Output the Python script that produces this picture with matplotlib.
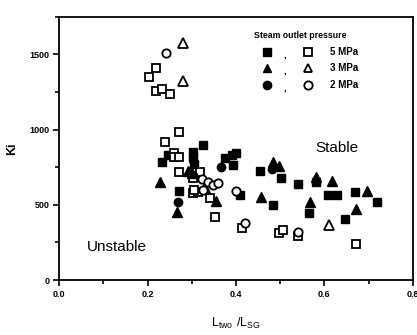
import matplotlib
matplotlib.use('Agg')
import matplotlib.pyplot as plt
from matplotlib.ticker import MultipleLocator

plt.rcParams['font.family'] = ['Liberation Sans', 'DejaVu Sans']

# 5 MPa
sq_f_x = [0.232, 0.245, 0.302, 0.302, 0.306, 0.325, 0.272, 0.375, 0.390, 0.401, 0.394,
          0.409, 0.455, 0.483, 0.502, 0.541, 0.564, 0.580, 0.609, 0.628, 0.647, 0.669, 0.718]
sq_f_y = [787, 831, 853, 809, 771, 897, 592, 812, 831, 842, 766,
          562, 722, 502, 678, 640, 443, 654, 567, 567, 405, 585, 518]
sq_o_x = [0.202, 0.219, 0.219, 0.232, 0.251, 0.271, 0.240, 0.260, 0.260, 0.271, 0.271,
          0.318, 0.303, 0.303, 0.315, 0.341, 0.352, 0.413, 0.498, 0.507, 0.541, 0.672, 0.305]
sq_o_y = [1352, 1407, 1259, 1270, 1234, 986, 918, 842, 815, 820, 720,
          720, 676, 576, 587, 543, 421, 343, 315, 330, 295, 240, 600]

# 3 MPa
tri_f_x = [0.229, 0.266, 0.292, 0.300, 0.354, 0.457, 0.484, 0.497, 0.568, 0.580, 0.617, 0.672, 0.697]
tri_f_y = [650, 450, 728, 710, 527, 552, 785, 760, 516, 685, 656, 475, 590]
tri_o_x = [0.281, 0.281, 0.611, 0.330]
tri_o_y = [1578, 1323, 366, 615]

# 2 MPa
circ_f_x = [0.269, 0.366, 0.482]
circ_f_y = [521, 752, 738]
circ_o_x = [0.242, 0.322, 0.337, 0.349, 0.360, 0.401, 0.421, 0.541, 0.326]
circ_o_y = [1511, 672, 654, 632, 645, 590, 380, 322, 600]

legend_labels = ['5 MPa', '3 MPa', '2 MPa']
legend_markers = ['s', '^', 'o']

fig = plt.figure(figsize=(4.17, 3.35), dpi=100)
ax = fig.add_axes([0.142, 0.164, 0.848, 0.786])

ms = 6
mew = 1.3
ax.plot(sq_f_x, sq_f_y, 's', color='black', ms=ms, ls='none')
ax.plot(sq_o_x, sq_o_y, 's', mfc='white', mec='black', mew=mew, ms=ms, ls='none')
ax.plot(tri_f_x, tri_f_y, '^', color='black', ms=ms + 0.5, ls='none')
ax.plot(tri_o_x, tri_o_y, '^', mfc='white', mec='black', mew=mew, ms=ms + 0.5, ls='none')
ax.plot(circ_f_x, circ_f_y, 'o', color='black', ms=ms, ls='none')
ax.plot(circ_o_x, circ_o_y, 'o', mfc='white', mec='black', mew=mew, ms=ms, ls='none')

ax.set_xlim(0, 0.8)
ax.set_ylim(0, 1750)
ax.xaxis.set_major_locator(MultipleLocator(0.2))
ax.xaxis.set_minor_locator(MultipleLocator(0.1))
ax.yaxis.set_major_locator(MultipleLocator(500))
ax.yaxis.set_minor_locator(MultipleLocator(250))
ax.set_xticks([0, 0.2, 0.4, 0.6, 0.8])
ax.set_xticklabels(['0.0', '0.2', '0.4', '0.6', '0.8'])
ax.tick_params(which='both', direction='out', width=1.2, labelsize=6.5, pad=3)
ax.tick_params(which='major', length=4)
ax.tick_params(which='minor', length=3)
for lab in ax.get_xticklabels() + ax.get_yticklabels():
    lab.set_fontweight('bold')
for sp in ax.spines.values():
    sp.set_linewidth(1.3)

ax.set_ylabel('Ki', fontsize=9, fontweight='bold', labelpad=8)
ax.set_xlabel(r'$\mathregular{L_{two}\ /L_{SG}}$', fontsize=9, labelpad=12)

ax.text(0.786, 0.50, 'Stable', transform=ax.transAxes, fontsize=11,
        ha='center', va='center')
ax.text(0.163, 0.125, 'Unstable', transform=ax.transAxes, fontsize=11,
        ha='center', va='center')

# legend
ax.text(0.681, 0.93, 'Steam outlet pressure', transform=ax.transAxes,
        fontsize=6.3, fontweight='bold', ha='center', va='center')
for i, (lab, m) in enumerate(zip(legend_labels, legend_markers)):
    yy = 0.867 - i * 0.063
    ax.plot([0.588], [yy], m, color='black', ms=ms, transform=ax.transAxes)
    ax.text(0.639, yy - 0.01, ',', transform=ax.transAxes, fontsize=7,
            fontweight='bold', ha='center', va='center')
    ax.plot([0.704], [yy], m, mfc='white', mec='black', mew=mew, ms=ms,
            transform=ax.transAxes)
    ax.text(0.766, yy, lab, transform=ax.transAxes, fontsize=7,
            fontweight='bold', ha='left', va='center')

fig.savefig('out.png', dpi=100)
